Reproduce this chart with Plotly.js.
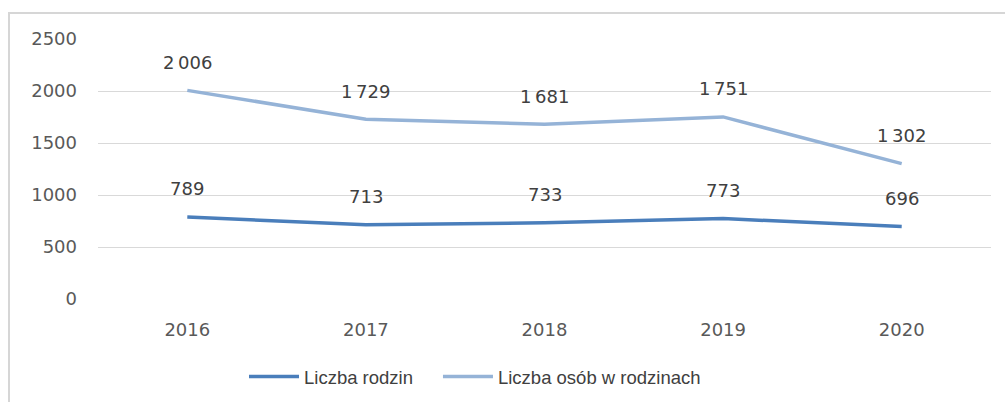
<!DOCTYPE html>
<html>
<head>
<meta charset="utf-8">
<script src="https://cdn.plot.ly/plotly-3.0.1.min.js"></script>
<style>
  html, body { margin: 0; padding: 0; background: #fff; }
  #wrap { position: relative; width: 1005px; height: 402px; overflow: hidden; }
  #chart { position: absolute; left: 0; top: 0; width: 1005px; height: 402px; }
  #frame { position: absolute; left: 8px; top: 12px; width: 1100px; height: 500px;
           border-left: 2px solid #d6d6d6; border-top: 2px solid #d6d6d6; pointer-events: none; }
</style>
</head>
<body>
<div id="wrap">
  <div id="chart"></div>
  <div id="frame"></div>
</div>
<script>
const years = ['2016', '2017', '2018', '2019', '2020'];
const liczbaRodzin = [789, 713, 733, 773, 696];
const liczbaOsob = [2006, 1729, 1681, 1751, 1302];
const seriesNames = ['Liczba rodzin', 'Liczba osób w rodzinach'];
const yTicks = [0, 500, 1000, 1500, 2000, 2500];

function fmt(v) {
  const s = String(v);
  return s.length > 3 ? s.slice(0, s.length - 3) + '\u2009' + s.slice(-3) : s;
}

const traces = [
  { x: years, y: liczbaRodzin, name: seriesNames[0], type: 'scatter', mode: 'lines',
    legend: 'legend', line: { color: '#4A7EBB', width: 3.5 } },
  { x: years, y: liczbaOsob, name: seriesNames[1], type: 'scatter', mode: 'lines',
    legend: 'legend2', line: { color: '#95B3D7', width: 3.5 } }
];

const annotations = [];
[liczbaRodzin, liczbaOsob].forEach(arr => {
  arr.forEach((v, i) => {
    annotations.push({ x: i, y: v, xref: 'x', yref: 'y', text: fmt(v),
      showarrow: false, yanchor: 'middle', yshift: 28,
      font: { family: 'DejaVu Sans', size: 18, color: '#404040' } });
  });
});

const legendBase = { orientation: 'h', xanchor: 'left', y: -0.227, yanchor: 'top',
  font: { family: 'Liberation Sans', size: 18.5, color: '#404040' },
  itemwidth: 50, bgcolor: 'rgba(0,0,0,0)' };

const layout = {
  width: 1005, height: 402,
  margin: { l: 98, r: 14, t: 39, b: 103, autoexpand: false },
  paper_bgcolor: 'rgba(0,0,0,0)', plot_bgcolor: '#fff',
  showlegend: true,
  legend: Object.assign({}, legendBase, { x: 0.1635 }),
  legend2: Object.assign({}, legendBase, { x: 0.3807 }),
  xaxis: { type: 'category', categoryorder: 'array', categoryarray: years,
           range: [-0.5, years.length - 0.5], autorange: false,
           showgrid: false, zeroline: false, showline: false,
           ticks: '', ticklabelstandoff: 18,
           tickfont: { family: 'DejaVu Sans', size: 18, color: '#595959' } },
  yaxis: { range: [0, 2500], autorange: false, tickvals: yTicks, ticktext: yTicks.map(String),
           showgrid: true, gridcolor: '#d9d9d9', gridwidth: 1,
           zeroline: false, showline: false, ticks: '', ticklabelstandoff: 20,
           tickfont: { family: 'DejaVu Sans', size: 18, color: '#595959' } },
  annotations: annotations
};

Plotly.newPlot('chart', traces, layout, { displayModeBar: false, staticPlot: true });
</script>
</body>
</html>
